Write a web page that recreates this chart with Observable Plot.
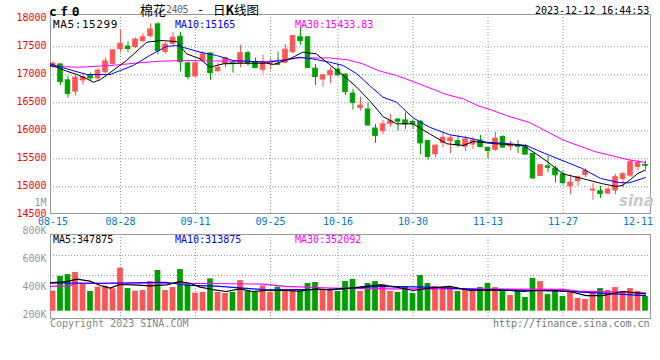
<!DOCTYPE html>
<html lang="zh">
<head>
<meta charset="utf-8">
<script src="https://cdn.jsdelivr.net/npm/d3@7"></script>
<script src="https://cdn.jsdelivr.net/npm/@observablehq/plot@0.6"></script>
<style>
html,body{margin:0;padding:0;background:#fff;}
#chart{position:relative;width:660px;height:360px;overflow:hidden;background:#fff;}
#chart svg{position:absolute;left:0;overflow:visible;}
.lbl{position:absolute;white-space:pre;line-height:10px;font-size:10px;font-family:"DejaVu Sans Mono",monospace;}
</style>
</head>
<body>
<div id="chart"></div>
<script>
// ---------------- data ----------------
const dates = ["08-15","08-16","08-17","08-18","08-21","08-22","08-23","08-24","08-25","08-28","08-29","08-30","08-31","09-01","09-04","09-05","09-06","09-07","09-08","09-11","09-12","09-13","09-14","09-15","09-18","09-19","09-20","09-21","09-22","09-25","09-26","09-27","09-28","10-09","10-10","10-11","10-12","10-13","10-16","10-17","10-18","10-19","10-20","10-23","10-24","10-25","10-26","10-27","10-30","10-31","11-01","11-02","11-03","11-06","11-07","11-08","11-09","11-10","11-13","11-14","11-15","11-16","11-17","11-20","11-21","11-22","11-23","11-24","11-27","11-28","11-29","11-30","12-01","12-04","12-05","12-06","12-07","12-08","12-11","12-12"];
const open  = [17140,17185,16900,16700,16900,16985,16935,17045,17195,17455,17505,17495,17600,17690,17900,17410,17555,17680,17205,16970,17260,17380,17065,17190,17215,17200,17385,17220,17090,17190,17190,17215,17405,17670,17670,17110,16915,16990,17090,17005,16665,16410,16380,16040,15995,16125,16200,16185,16160,16160,15815,15580,15785,15815,15815,15715,15755,15825,15695,15660,15890,15720,15740,15725,15590,15195,15365,15325,15220,15010,15100,15210,14935,14920,14880,14935,15140,15200,15355,15390];
const high  = [17230,17195,16975,16985,17030,17030,17105,17300,17455,17790,17590,17660,17735,17910,17925,17580,17760,17760,17225,17240,17410,17395,17210,17315,17245,17530,17420,17300,17350,17285,17404,17540,17695,17840,17675,17185,16995,17135,17185,17010,16740,16600,16500,16115,16185,16290,16220,16320,16185,16185,15820,15740,15965,15905,15915,15905,15885,15915,15710,15975,15910,15810,15825,15760,15595,15395,15545,15370,15280,15210,15190,15325,15060,15010,14980,15220,15250,15480,15470,15460];
const low   = [17110,16810,16585,16625,16815,16900,16900,17020,17170,17400,17400,17470,17570,17660,17360,17370,17520,17050,16910,16960,17240,16900,17035,17120,17030,17125,17150,17110,17020,17090,17166,17200,17375,17525,17115,16810,16780,16840,16970,16630,16370,16350,16080,15775,15935,16065,15995,16025,16025,15575,15475,15520,15695,15590,15695,15625,15665,15695,15500,15635,15690,15640,15590,15570,15130,15185,15250,15070,15030,14860,15010,15165,14760,14790,14860,14860,14980,15170,15285,15310];
const close = [17200,16870,16660,16950,16960,16935,17075,17240,17435,17555,17460,17630,17670,17810,17425,17540,17665,17225,16960,17205,17365,17030,17125,17295,17190,17385,17200,17120,17205,17205,17180,17450,17690,17600,17120,16960,16990,17065,16990,16690,16500,16450,16095,15905,16115,16170,16160,16115,16115,15775,15535,15735,15875,15865,15740,15845,15825,15710,15640,15860,15700,15745,15715,15575,15150,15385,15340,15205,15065,15075,15170,15280,14950,14870,14950,15170,15225,15440,15430,15375];
const volume = [367000,472000,486000,501000,420000,365000,396000,403000,384000,532000,386000,367000,372000,436000,515000,372000,393000,522000,415000,353000,358000,455000,358000,351000,358000,443000,365000,358000,405000,358000,396000,377000,367000,367000,422000,429000,377000,384000,365000,436000,451000,365000,422000,436000,415000,365000,358000,401000,351000,479000,422000,401000,393000,393000,365000,379000,365000,393000,422000,393000,365000,336000,365000,322000,458000,436000,343000,379000,329000,372000,315000,308000,358000,386000,372000,393000,365000,386000,365000,329000];

// moving averages (index position, value)
const ma5Idx  = [-0.4,0.5,1.8,3.2,4.5,5.4,6.3,8.0,9.8,12.5,14.3,16.5,17.8,19.6,20.9,22.7,24.9,28.5,29.4,31.6,33.3,35.1,36.9,38.7,40.5,42.2,44.0,45.8,48.0,50.2,52.5,54.7,56.0,57.8,59.1,62.7,64.4,66.0,68.0,70.7,73.3,75.1,76.0,77.0,78.0,79.0];
const ma5Val  = [17166,17136,17065,17005,16929,16868,16911,17077,17255,17582,17612,17595,17375,17286,17136,17196,17207,17207,17184,17286,17404,17375,17180,16988,16779,16541,16255,16125,16125,15946,15768,15738,15809,15785,15768,15738,15589,15440,15230,15143,15054,15005,15030,15130,15240,15299];
const ma10Idx = [-0.4,1.8,4.5,7.6,10.7,12.9,15.1,16.5,19.6,21.8,24.0,28.5,30.6,32.9,34.6,36.9,38.7,40.5,42.2,44.0,45.8,48.0,50.2,52.9,55.6,57.8,60.9,63.1,65.5,68.0,70.5,73.0,75.5,76.8,79.0];
const ma10Val = [17196,17107,17005,17005,17166,17345,17505,17523,17404,17345,17255,17225,17255,17314,17285,17225,17166,17018,16809,16600,16511,16232,16064,15929,15868,15796,15768,15738,15600,15465,15330,15150,15075,15070,15165];
const ma30Idx = [-0.4,3.5,8,11.5,14.2,17.5,20,25,28.5,30.6,32.9,37,39.2,41.3,43.5,45.8,48,51.1,52.4,54.7,56.8,58.5,60.5,63.5,68,72.3,76.8,79];
const ma30Val = [17150,17136,17170,17214,17243,17255,17250,17240,17235,17265,17303,17300,17270,17196,17070,16988,16880,16720,16650,16571,16440,16370,16270,16150,15835,15627,15480,15434];

const vma5Idx  = [-0.4,1.8,3.2,4.9,6.3,7.6,8.9,10.7,12.9,15.1,16.9,18.3,19.6,21.3,23.1,24.9,26.6,28.5,30.7,32.9,35.1,36.9,39.6,43.6,45.8,48,50.2,52.9,55.6,58.3,60.9,62.7,64.4,67.1,68.9,71.1,73.3,76,79];
const vma5Val  = [427,436,453,439,408,389,415,412,405,412,436,424,396,379,365,384,365,372,372,367,384,377,389,412,396,372,389,401,372,377,372,365,372,372,365,336,336,365,348].map(v => v * 1000);
const vma10Idx = [-0.4,6.3,15.1,18,21.8,28.5,36.9,43.6,50.2,56.9,63.5,67.9,72.4,79];
const vma10Val = [427,424,431,408,403,377,380,401,396,379,372,367,355,335].map(v => v * 1000);
const vma30Idx = [-0.4,2,3,10,20,28,31,37,45,55,68,70,79];
const vma30Val = [401,405,422,424,422,418,401,390,384,384,380,367,355].map(v => v * 1000);

// axis tick values / labels
const dateTicks   = ["08-15","08-28","09-11","09-25","10-16","10-30","11-13","11-27","12-11"];
const gridDates   = ["08-28","09-11","09-25","10-16","10-30","11-13","11-27"];
const priceTicks  = [18000,17500,17000,16500,16000,15500,15000,14500];
const priceGrid   = [17500,17000,16500,16000,15500,15000];
const volTicks    = [200000,400000,600000,800000,1000000];
const volTickText = ["200K","400K","600K","800K","1M"];
const volGrid     = [622000,479000];
const volBase     = 224300;
const priceDomain = [14523,18077];
const volDomain   = [172100,772100];

// ---------------- build ----------------
const UP = "#ff5555", DOWN = "#009f00";
const rows = dates.map((d, i) => ({i, d, o: open[i], h: high[i], l: low[i], c: close[i], v: volume[i]}));
const isUp = r => r.c >= r.o;
const isDown = r => r.c < r.o;
const xDomain = [-1/3, 79 + 2/3];
const idx = d => dates.indexOf(d);
const mono = "DejaVu Sans Mono, monospace";

const pricePlot = Plot.plot({
  width: 660, height: 232,
  marginLeft: 50, marginRight: 10, marginTop: 14, marginBottom: 19,
  style: {background: "transparent", fontFamily: mono, fontSize: "10px"},
  x: {type: "linear", domain: xDomain, label: null},
  y: {domain: priceDomain, label: null},
  marks: [
    Plot.gridY({ticks: priceGrid, stroke: "#999", strokeOpacity: 1, strokeDasharray: "1,2"}),
    Plot.gridX({ticks: gridDates.map(idx), stroke: "#999", strokeOpacity: 1, strokeDasharray: "1,2"}),
    Plot.frame({stroke: "#999"}),
    Plot.axisY({ticks: priceTicks, label: null, tickSize: 0, tickPadding: 4, fill: "#ff0000", dy: -1, tickFormat: d => String(d)}),
    Plot.axisX({ticks: dateTicks.map(idx), label: null, tickSize: 0, tickPadding: 4.5, fill: "#0078d7", tickFormat: i => dates[i]}),
    Plot.ruleX(rows, {filter: isUp, x: "i", y1: "l", y2: "h", stroke: UP, clip: true}),
    Plot.ruleX(rows, {filter: isDown, x: "i", y1: "l", y2: "h", stroke: DOWN, clip: true}),
    Plot.rect(rows, {filter: isUp, x1: r => r.i - 0.3, x2: r => r.i + 0.3, y1: "o", y2: "c", fill: UP, stroke: UP, clip: true}),
    Plot.rect(rows, {filter: isDown, x1: r => r.i - 0.3, x2: r => r.i + 0.3, y1: "o", y2: "c", fill: DOWN, stroke: DOWN, clip: true}),
    Plot.line(ma30Val, {x: ma30Idx, y: ma30Val, stroke: "#ff00ff", strokeWidth: 1, clip: true}),
    Plot.line(ma10Val, {x: ma10Idx, y: ma10Val, stroke: "#0000ff", strokeWidth: 1, clip: true}),
    Plot.line(ma5Val,  {x: ma5Idx,  y: ma5Val,  stroke: "#000000", strokeWidth: 1, clip: true})
  ]
});
pricePlot.style.top = "0px";

const volPlot = Plot.plot({
  width: 660, height: 170,
  marginLeft: 50, marginRight: 10, marginTop: 44, marginBottom: 42,
  style: {background: "transparent", fontFamily: mono, fontSize: "10px"},
  x: {type: "linear", domain: xDomain, axis: null, label: null},
  y: {domain: volDomain, axis: null, label: null},
  marks: [
    Plot.gridY({ticks: volGrid, stroke: "#999", strokeOpacity: 1, strokeDasharray: "1,2"}),
    Plot.gridX({ticks: gridDates.map(idx), stroke: "#999", strokeOpacity: 1, strokeDasharray: "1,2"}),
    Plot.frame({stroke: "#999"}),
    Plot.text(volTicks, {y: d => d, text: (d, k) => volTickText[k], frameAnchor: "left", textAnchor: "end", dx: -4, fill: "#999"}),
    Plot.rect(rows, {filter: isUp, x1: r => r.i - 0.38, x2: r => r.i + 0.38, y1: volBase, y2: "v", fill: UP, clip: true}),
    Plot.rect(rows, {filter: isDown, x1: r => r.i - 0.38, x2: r => r.i + 0.38, y1: volBase, y2: "v", fill: DOWN, clip: true}),
    Plot.line(vma30Val, {x: vma30Idx, y: vma30Val, stroke: "#ff00ff", strokeWidth: 1.2, clip: true}),
    Plot.line(vma10Val, {x: vma10Idx, y: vma10Val, stroke: "#0000ff", strokeWidth: 1.2, clip: true}),
    Plot.line(vma5Val,  {x: vma5Idx,  y: vma5Val,  stroke: "#000000", strokeWidth: 1.2, clip: true})
  ]
});
volPlot.style.top = "190px";

const chart = document.getElementById("chart");
chart.appendChild(pricePlot);
chart.appendChild(volPlot);

function label(text, css, html) {
  const el = document.createElement("div");
  el.className = "lbl";
  if (html) el.innerHTML = text; else el.textContent = text;
  Object.assign(el.style, css);
  chart.appendChild(el);
  return el;
}
// header
label("cf0", {left: "49px", top: "5px", fontSize: "13px", lineHeight: "13px", fontWeight: "bold", letterSpacing: "3.5px", color: "#000"});
label("棉花", {left: "140px", top: "3px", fontFamily: "Noto Sans CJK SC", fontSize: "13px", lineHeight: "13px", color: "#000"});
label("2405", {left: "166px", top: "5px", fontSize: "10px", letterSpacing: "-0.5px", color: "#666"});
label("-", {left: "197px", top: "4px", fontSize: "12px", lineHeight: "12px", color: "#000"});
label("日<b>K</b>线图", {left: "213px", top: "3px", fontFamily: "Noto Sans CJK SC", fontSize: "12.5px", lineHeight: "13px", color: "#000"}, true);
label("2023-12-12 16:44:53", {left: "535px", top: "6px", color: "#000"});
// price MA legend
label("MA5:15299", {left: "53px", top: "19.5px", color: "#000", fontSize: "11px", letterSpacing: "0.6px"});
label("MA10:15165", {left: "175px", top: "19.5px", color: "#0000ff"});
label("MA30:15433.83", {left: "295px", top: "19.5px", color: "#ff00ff"});
// volume MA legend
label("MA5:347875", {left: "53px", top: "234.5px", color: "#000"});
label("MA10:313875", {left: "175px", top: "234.5px", color: "#0000ff"});
label("MA30:352092", {left: "295px", top: "234.5px", color: "#ff00ff"});
// footer
label("Copyright 2023 SINA.COM", {left: "50px", top: "318.5px", color: "#888"});
label("http://finance.sina.com.cn", {left: "493px", top: "318.5px", color: "#777"});
// sina watermark
label("sina", {left: "619px", top: "194px", fontFamily: "DejaVu Sans", fontSize: "15px", lineHeight: "15px", fontStyle: "italic", fontWeight: "bold", color: "#c9c9c9"});
</script>
</body>
</html>
